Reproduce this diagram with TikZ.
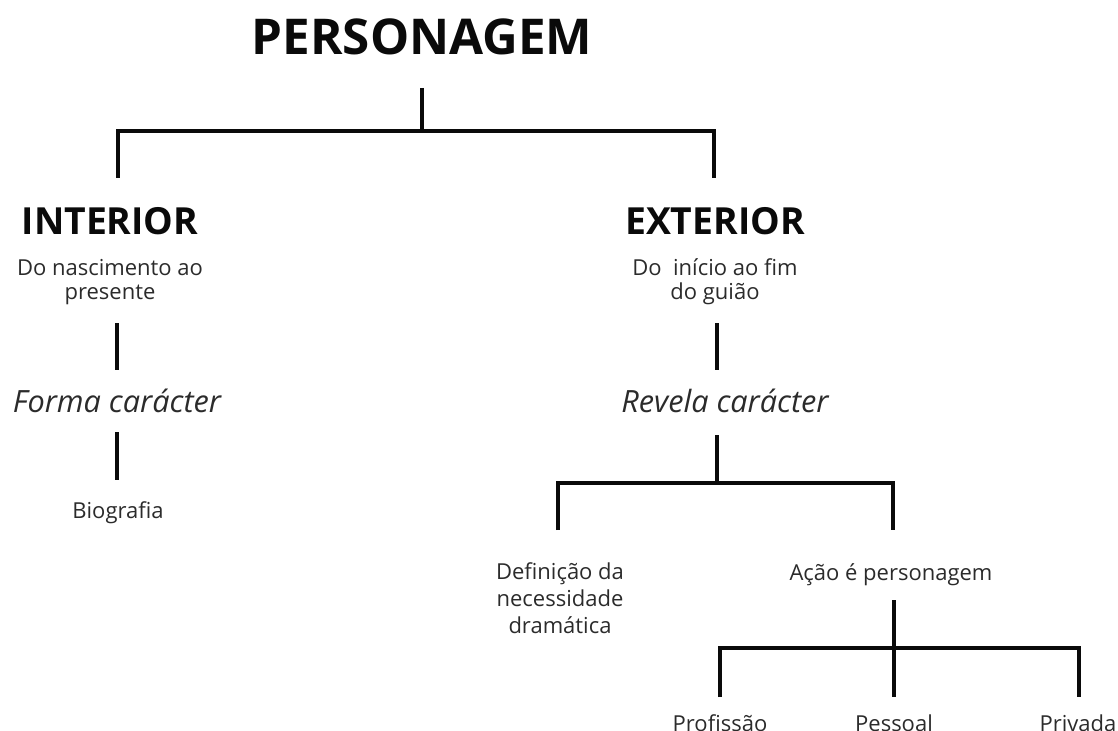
\documentclass[tikz,border=0pt]{standalone}
\usepackage{fontspec}
\setmainfont{Open Sans}
\definecolor{txt}{HTML}{2B2B2B}
\definecolor{ink}{HTML}{0A0A0A}
\begin{document}
\begin{tikzpicture}[x=0.75pt,y=-0.75pt,
  title/.style={anchor=base,inner sep=0pt,text=ink,font=\fontsize{37}{44}\selectfont\bfseries},
  head/.style={anchor=base,inner sep=0pt,text=ink,font=\fontsize{28}{32}\selectfont\bfseries},
  small/.style={anchor=base,inner sep=0pt,text=txt,align=center,font=\fontsize{16.5}{18.5}\selectfont},
  smallw/.style={small,font=\fontsize{16.5}{20}\selectfont},
  ital/.style={anchor=base,inner sep=0pt,text=txt,font=\fontsize{23}{26}\selectfont\itshape},
  link/.style={line width=3pt,draw=ink}]
\useasboundingbox (0,0) rectangle (1118,731);
% texts
\node[title] (pers) at (422,55) {PERSONAGEM};
\node[head] (int) at (110,235) {INTERIOR};
\node[head] (ext) at (715,235) {EXTERIOR};
\node[small] (intd) at (110,300) {Do nascimento ao\\presente};
\node[small] (extd) at (715,300) {Do\ \ início ao fim\\do guião};
\node[ital] (forma) at (117,412) {Forma carácter};
\node[ital] (revela) at (725,412) {Revela carácter};
\node[small] (bio) at (118,518) {Biografia};
\node[smallw] (def) at (560,633) {Definição da\\necessidade\\dramática};
\node[small] (acao) at (891,580) {Ação é personagem};
\node[small] (prof) at (720,731) {Profissão};
\node[small] (pess) at (894,731) {Pessoal};
\node[small] (priv) at (1078,731) {Privada};
% junction coordinates
\coordinate (t0) at (422,88);
\coordinate (t1) at (422,131);
\coordinate (tl) at (118,131);
\coordinate (tr) at (714,131);
\coordinate (tle) at (118,178);
\coordinate (tre) at (714,178);
\coordinate (i0) at (117,323);
\coordinate (i1) at (117,370);
\coordinate (i2) at (117,432);
\coordinate (i3) at (117,480);
\coordinate (e0) at (717,323);
\coordinate (e1) at (717,370);
\coordinate (e2) at (717,435);
\coordinate (e3) at (717,483);
\coordinate (el) at (558,483);
\coordinate (er) at (893,483);
\coordinate (ele) at (558,530);
\coordinate (ere) at (893,530);
\coordinate (a0) at (894,600);
\coordinate (a1) at (894,648);
\coordinate (a2) at (894,697);
\coordinate (al) at (720,648);
\coordinate (ar) at (1079,648);
\coordinate (ale) at (720,697);
\coordinate (are) at (1079,697);
% connectors
\draw[link] (t0) -- (t1);
\draw[link] (tle) -- (tl) -- (tr) -- (tre);
\draw[link] (i0) -- (i1);
\draw[link] (i2) -- (i3);
\draw[link] (e0) -- (e1);
\draw[link] (e2) -- (e3);
\draw[link] (ele) -- (el) -- (er) -- (ere);
\draw[link] (a0) -- (a2);
\draw[link] (ale) -- (al) -- (ar) -- (are);
\end{tikzpicture}
\end{document}
